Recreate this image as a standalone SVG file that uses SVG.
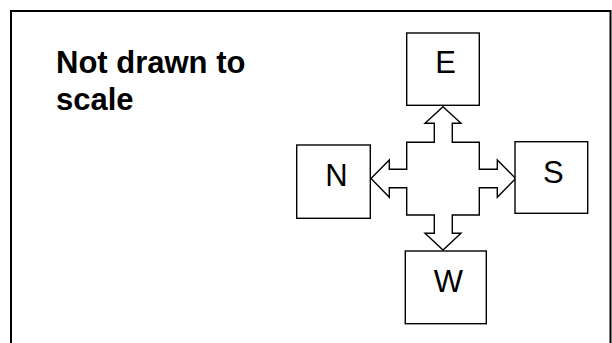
<svg xmlns="http://www.w3.org/2000/svg" width="612" height="343" viewBox="0 0 612 343">
<style>
.box{fill:#fff;stroke:#000;stroke-width:1.4}
.lbl{font-family:"Liberation Sans",Arial,sans-serif;font-size:31px;fill:#000;text-anchor:middle}
.title{font-family:"Liberation Sans",Arial,sans-serif;font-size:31px;font-weight:bold;fill:#000}
.conn{fill:#fff;stroke:#000;stroke-width:1.4;stroke-linejoin:miter}
</style>
<rect x="0" y="0" width="612" height="343" fill="#fff"/>
<rect id="frame" x="11" y="11" width="599.5" height="345" fill="none" stroke="#000" stroke-width="2"/>
<g id="title">
<text class="title" x="56" y="73.3">Not drawn to</text>
<text class="title" x="56" y="110">scale</text>
</g>
<g id="connectors">
<polygon class="conn" points="443,106.7 461,123.3 452.3,123.3 452.3,142.3 479.3,142.3 479.3,169.3 497.3,169.3 497.3,160 515.7,178.5 497.3,197.3 497.3,187.7 479.3,187.7 479.3,215 452.3,215 452.3,233.3 461,233.3 443,250 425,233.3 434.3,233.3 434.3,215 406.7,215 406.7,187.7 389.3,187.7 389.3,197.3 371,178.5 389.3,160 389.3,169.3 406.7,169.3 406.7,142.3 434.3,142.3 434.3,123.3 425,123.3"/>
</g>
<g id="node-E">
<rect class="box" x="406.7" y="33" width="72.6" height="72.3"/>
<text class="lbl" x="445.5" y="72.7">E</text>
</g>
<g id="node-N">
<rect class="box" x="296.7" y="145" width="73.6" height="73.3"/>
<text class="lbl" x="336.5" y="186">N</text>
</g>
<g id="node-S">
<rect class="box" x="515" y="141.7" width="72.7" height="71.6"/>
<text class="lbl" x="553.3" y="182.5">S</text>
</g>
<g id="node-W">
<rect class="box" x="405.3" y="251" width="81" height="72.7"/>
<text class="lbl" x="448.3" y="291.7">W</text>
</g>
</svg>
